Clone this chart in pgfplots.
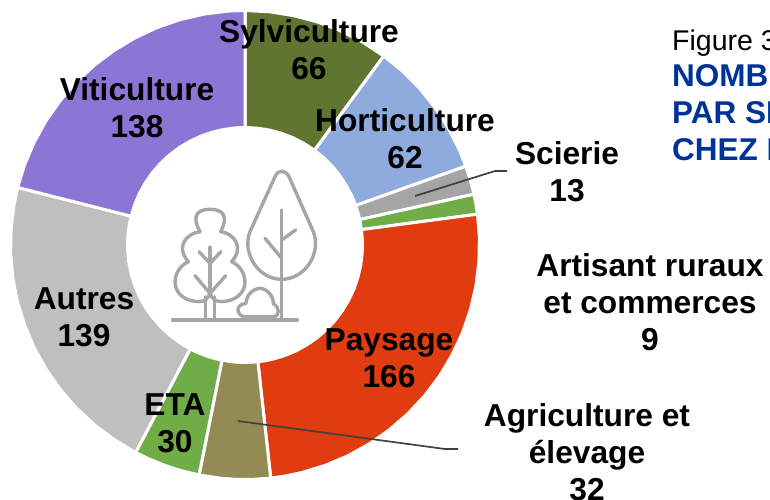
\documentclass[border=0pt]{standalone}
\usepackage{pgfplots}
\pgfplotsset{compat=1.18}
\usepackage{fontspec}
\setmainfont{Liberation Sans}
\definecolor{csyl}{HTML}{5F7530}
\definecolor{chor}{HTML}{8FAADC}
\definecolor{csci}{HTML}{A5A5A5}
\definecolor{cart}{HTML}{70AD47}
\definecolor{cpay}{HTML}{E03C0F}
\definecolor{cagr}{HTML}{948A54}
\definecolor{ceta}{HTML}{70AD47}
\definecolor{caut}{HTML}{BFBFBF}
\definecolor{cvit}{HTML}{8B75D5}
\definecolor{cblue}{HTML}{003399}
\definecolor{clead}{HTML}{404040}
\definecolor{cicon}{HTML}{A6A6A6}
\tikzset{lab/.style={font=\fontsize{31.7}{36.8}\selectfont\bfseries,align=center,inner sep=0pt,text=black}}
\pgfplotsset{wedge/.style={fill=#1,draw=white,line width=3pt,mark=none,data cs=polar,forget plot}}
\begin{document}
\begin{tikzpicture}
\path[use as bounding box,clip] (0,0) rectangle (770pt,499pt);
\begin{axis}[at={(0,0)},anchor=south west,scale only axis,width=770pt,height=499pt,
  xmin=-245,xmax=525,ymin=-254,ymax=245,hide axis,clip=false]
% Sylviculture 66
\addplot[wedge=csyl] coordinates {(90,234.5)(84,234.5)(78,234.5)(72,234.5)(66,234.5)(60,234.5)(53.72,234.5)(53.72,117.5)(60,117.5)(66,117.5)(72,117.5)(78,117.5)(84,117.5)(90,117.5)} --cycle;
% Horticulture 62
\addplot[wedge=chor] coordinates {(53.72,234.5)(48,234.5)(42,234.5)(36,234.5)(30,234.5)(24,234.5)(19.64,234.5)(19.64,117.5)(24,117.5)(30,117.5)(36,117.5)(42,117.5)(48,117.5)(53.72,117.5)} --cycle;
% Scierie 13
\addplot[wedge=csci] coordinates {(19.64,234.5)(16,234.5)(12.5,234.5)(12.5,117.5)(16,117.5)(19.64,117.5)} --cycle;
% Artisant ruraux et commerces 9
\addplot[wedge=cart] coordinates {(12.5,234.5)(10,234.5)(7.55,234.5)(7.55,117.5)(10,117.5)(12.5,117.5)} --cycle;
% Paysage 166
\addplot[wedge=cpay] coordinates {(7.55,234.5)(2,234.5)(-4,234.5)(-10,234.5)(-16,234.5)(-22,234.5)(-28,234.5)(-34,234.5)(-40,234.5)(-46,234.5)(-52,234.5)(-58,234.5)(-64,234.5)(-70,234.5)(-76,234.5)(-80,234.5)(-83.7,234.5)(-83.7,117.5)(-80,117.5)(-76,117.5)(-70,117.5)(-64,117.5)(-58,117.5)(-52,117.5)(-46,117.5)(-40,117.5)(-34,117.5)(-28,117.5)(-22,117.5)(-16,117.5)(-10,117.5)(-4,117.5)(2,117.5)(7.55,117.5)} --cycle;
% Agriculture et elevage 32
\addplot[wedge=cagr] coordinates {(-83.7,234.5)(-88,234.5)(-92,234.5)(-96,234.5)(-101.3,234.5)(-101.3,117.5)(-96,117.5)(-92,117.5)(-88,117.5)(-83.7,117.5)} --cycle;
% ETA 30
\addplot[wedge=ceta] coordinates {(-101.3,234.5)(-106,234.5)(-110,234.5)(-114,234.5)(-117.8,234.5)(-117.8,117.5)(-114,117.5)(-110,117.5)(-106,117.5)(-101.3,117.5)} --cycle;
% Autres 139
\addplot[wedge=caut] coordinates {(-117.8,234.5)(-124,234.5)(-130,234.5)(-136,234.5)(-142,234.5)(-148,234.5)(-154,234.5)(-160,234.5)(-166,234.5)(-172,234.5)(-178,234.5)(-184,234.5)(-190,234.5)(-194.2,234.5)(-194.2,117.5)(-190,117.5)(-184,117.5)(-178,117.5)(-172,117.5)(-166,117.5)(-160,117.5)(-154,117.5)(-148,117.5)(-142,117.5)(-136,117.5)(-130,117.5)(-124,117.5)(-117.8,117.5)} --cycle;
% Viticulture 138
\addplot[wedge=cvit] coordinates {(-194.2,234.5)(-200,234.5)(-206,234.5)(-212,234.5)(-218,234.5)(-224,234.5)(-230,234.5)(-236,234.5)(-242,234.5)(-248,234.5)(-254,234.5)(-260,234.5)(-266,234.5)(-270,234.5)(-270,117.5)(-266,117.5)(-260,117.5)(-254,117.5)(-248,117.5)(-242,117.5)(-236,117.5)(-230,117.5)(-224,117.5)(-218,117.5)(-212,117.5)(-206,117.5)(-200,117.5)(-194.2,117.5)} --cycle;
% leader lines
\addplot[clead,line width=1.7pt,mark=none,forget plot] coordinates {(170,49)(250,74)(262,74)};
\addplot[clead,line width=1.7pt,mark=none,forget plot] coordinates {(-7,-176)(200,-204)(213,-204)};
% labels
\node[lab] at (axis cs:64,195) {Sylviculture\\66};
\node[lab] at (axis cs:160,106.5) {Horticulture\\62};
\node[lab] at (axis cs:322,73) {Scierie\\13};
\node[lab] at (axis cs:405,-57) {Artisant ruraux\\et commerces\\9};
\node[lab] at (axis cs:342,-207) {Agriculture et\\élevage\\32};
\node[lab] at (axis cs:144,-113) {Paysage\\166};
\node[lab] at (axis cs:-70,-178.5) {ETA\\30};
\node[lab] at (axis cs:-161,-72.5) {Autres\\139};
\node[lab] at (axis cs:-108,137.5) {Viticulture\\138};
% side text
\node[anchor=base west,inner sep=0pt,font=\fontsize{28.5}{30}\selectfont] at (axis cs:427,194) {Figure 3};
\node[anchor=base west,inner sep=0pt,text=cblue,font=\fontsize{31.5}{30}\selectfont\bfseries] at (axis cs:427,158.3) {NOMBRE};
\node[anchor=base west,inner sep=0pt,text=cblue,font=\fontsize{31.5}{30}\selectfont\bfseries] at (axis cs:427,121) {PAR SECTEUR};
\node[anchor=base west,inner sep=0pt,text=cblue,font=\fontsize{31.5}{30}\selectfont\bfseries] at (axis cs:427,85) {CHEZ LES};
\end{axis}
% tree icon
\begin{scope}[shift={(150pt,349pt)},x=.33333pt,y=-.33333pt,draw=cicon,line width=3.4pt,line cap=round,line join=round]
\draw (68,510)--(442,510);
\draw (300,245)--(375,80) .. controls (385,58) and (405,58) .. (417,80)--(490,245) .. controls (515,310) and (465,388) .. (395,388) .. controls (325,388) and (275,310) .. (300,245)--cycle;
\draw (395,180)--(395,505);
\draw (395,325)--(345,265);
\draw (395,270)--(437,240);
\draw (150,245) .. controls (120,190) and (150,178) .. (180,178) .. controls (210,178) and (240,190) .. (212,245) .. controls (250,250) and (285,290) .. (245,335) .. controls (300,360) and (305,450) .. (215,455) .. controls (195,455) and (185,445) .. (180,430) .. controls (175,445) and (165,455) .. (145,455) .. controls (55,450) and (60,360) .. (115,335) .. controls (75,290) and (110,250) .. (150,245)--cycle;
\draw (167,440)--(167,505);
\draw (193,440)--(193,505);
\draw (180,292)--(180,430);
\draw (180,340)--(147,305);
\draw (180,340)--(213,305);
\draw (180,430)--(135,377);
\draw (180,430)--(227,377);
\draw (280,500) .. controls (255,490) and (260,462) .. (288,460) .. controls (290,425) and (320,415) .. (330,415) .. controls (350,415) and (372,440) .. (370,462) .. controls (390,470) and (390,500) .. (370,500)--cycle;
\end{scope}
\end{tikzpicture}
\end{document}
